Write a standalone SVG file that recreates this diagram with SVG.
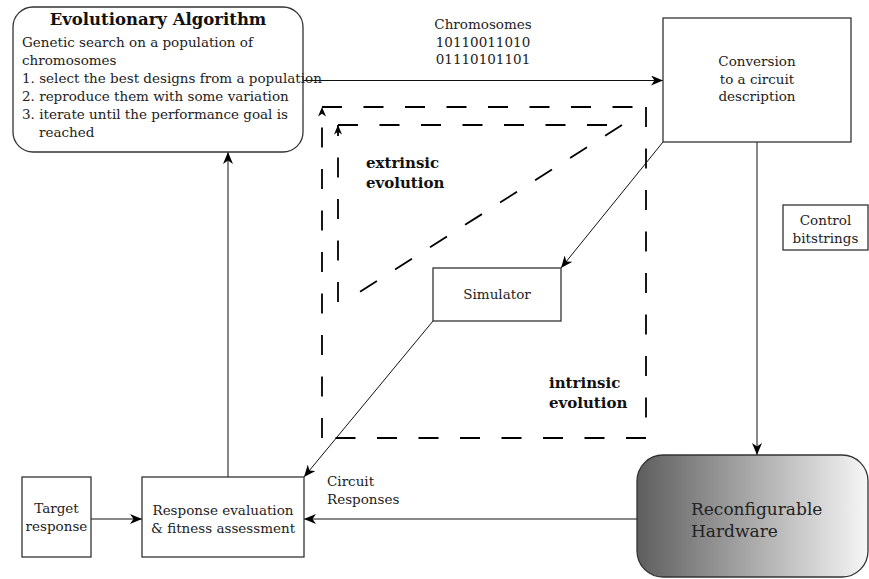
<svg xmlns="http://www.w3.org/2000/svg" width="869" height="579" viewBox="0 0 869 579">
  <defs>
    <linearGradient id="hwGrad" x1="0" y1="0" x2="1" y2="0">
      <stop offset="0" stop-color="#5e5e5e"/>
      <stop offset="1" stop-color="#f6f6f6"/>
    </linearGradient>
    <marker id="arrow" viewBox="0 0 12 10" refX="12" refY="5" markerWidth="12" markerHeight="10" markerUnits="userSpaceOnUse" orient="auto">
      <path d="M12,5 L0,0 L3.5,5 L0,10 Z" fill="#000"/>
    </marker>
    <marker id="arrowSmall" viewBox="0 0 12 10" refX="12" refY="5" markerWidth="12" markerHeight="8" markerUnits="userSpaceOnUse" orient="auto">
      <path d="M12,5 L0,0 L3.5,5 L0,10 Z" fill="#000"/>
    </marker>
  </defs>
  <style>
    text { font-family: "DejaVu Serif", "Liberation Serif", serif; font-size: 13.5px; fill: #222; }
    .title { font-weight: bold; font-size: 16.5px; fill: #111; }
    .bold { font-weight: bold; font-size: 15px; fill: #111; }
    .big { font-size: 17px; }
    .mid { text-anchor: middle; }
    .box { fill: #fff; stroke: #333; stroke-width: 1.3; }
    .conn { fill: none; stroke: #111; stroke-width: 1; }
    .dash { fill: none; stroke: #000; stroke-width: 1.8; stroke-dasharray: 20 21.5; }
  </style>

  <!-- connectors -->
  <g id="connectors">
    <line class="conn" x1="303" y1="80.5" x2="663" y2="80.5" marker-end="url(#arrow)"/>
    <line class="conn" x1="757" y1="142" x2="757" y2="455" marker-end="url(#arrow)"/>
    <line class="conn" x1="663" y1="142" x2="561" y2="268" marker-end="url(#arrow)"/>
    <line class="conn" x1="433" y1="321" x2="304" y2="477" marker-end="url(#arrow)"/>
    <line class="conn" x1="637" y1="519" x2="304" y2="519" marker-end="url(#arrow)"/>
    <line class="conn" x1="91" y1="519" x2="142" y2="519" marker-end="url(#arrow)"/>
    <line class="conn" x1="228" y1="477" x2="228" y2="152" marker-end="url(#arrow)"/>
    <!-- evolution loops: one sub-path per side so every side starts on a dash -->
    <path class="dash" d="M322,107 H646 M646,107 V438 M646,438 H322 M322,438 V107" marker-end="url(#arrowSmall)"/>
    <path class="dash" d="M338,125 H610 M622,125 L358,293 M338,302 V125" marker-end="url(#arrowSmall)"/>
  </g>

  <!-- Evolutionary Algorithm -->
  <g id="evolutionary-algorithm">
    <rect class="box" x="13" y="7" width="290" height="145" rx="20" ry="20"/>
    <text class="title mid" x="158" y="25">Evolutionary Algorithm</text>
    <text x="22" y="47">Genetic search on a population of</text>
    <text x="22" y="65">chromosomes</text>
    <text x="22" y="83">1. select the best designs from a population</text>
    <text x="22" y="101">2. reproduce them with some variation</text>
    <text x="22" y="119">3. iterate until the performance goal is</text>
    <text x="39" y="137">reached</text>
  </g>

  <!-- chromosome label -->
  <g id="chromosomes-label">
    <text class="mid" x="483" y="29">Chromosomes</text>
    <text class="mid" x="483" y="46.5">10110011010</text>
    <text class="mid" x="483" y="64">01110101101</text>
  </g>

  <!-- Conversion -->
  <g id="conversion">
    <rect class="box" x="663" y="18" width="188" height="124"/>
    <text class="mid" x="757" y="66">Conversion</text>
    <text class="mid" x="757" y="83.5">to a circuit</text>
    <text class="mid" x="757" y="101">description</text>
  </g>

  <!-- Control bitstrings -->
  <g id="control-bitstrings">
    <rect class="box" x="783" y="205" width="85" height="45"/>
    <text class="mid" x="825.5" y="225">Control</text>
    <text class="mid" x="825.5" y="242.5">bitstrings</text>
  </g>

  <!-- Simulator -->
  <g id="simulator">
    <rect class="box" x="433" y="268" width="128" height="53"/>
    <text class="mid" x="497" y="299">Simulator</text>
  </g>

  <!-- evolution labels -->
  <g id="extrinsic-label">
    <text class="bold" x="366" y="168">extrinsic</text>
    <text class="bold" x="366" y="188">evolution</text>
  </g>
  <g id="intrinsic-label">
    <text class="bold" x="549" y="388">intrinsic</text>
    <text class="bold" x="549" y="408">evolution</text>
  </g>

  <!-- Target response -->
  <g id="target-response">
    <rect class="box" x="22" y="477" width="69" height="80"/>
    <text class="mid" x="56.5" y="513">Target</text>
    <text class="mid" x="56.5" y="531">response</text>
  </g>

  <!-- Response evaluation -->
  <g id="response-evaluation">
    <rect class="box" x="142" y="477" width="162" height="80"/>
    <text class="mid" x="223" y="515">Response evaluation</text>
    <text class="mid" x="223" y="533">&amp; fitness assessment</text>
  </g>

  <!-- circuit responses label -->
  <g id="circuit-responses-label">
    <text x="327" y="486">Circuit</text>
    <text x="327" y="503.5">Responses</text>
  </g>

  <!-- Reconfigurable Hardware -->
  <g id="reconfigurable-hardware">
    <rect x="637" y="455" width="231" height="122" rx="26" ry="26" fill="url(#hwGrad)" stroke="#333" stroke-width="1.3"/>
    <text class="big" x="691" y="515">Reconfigurable</text>
    <text class="big" x="691" y="537">Hardware</text>
  </g>
</svg>
